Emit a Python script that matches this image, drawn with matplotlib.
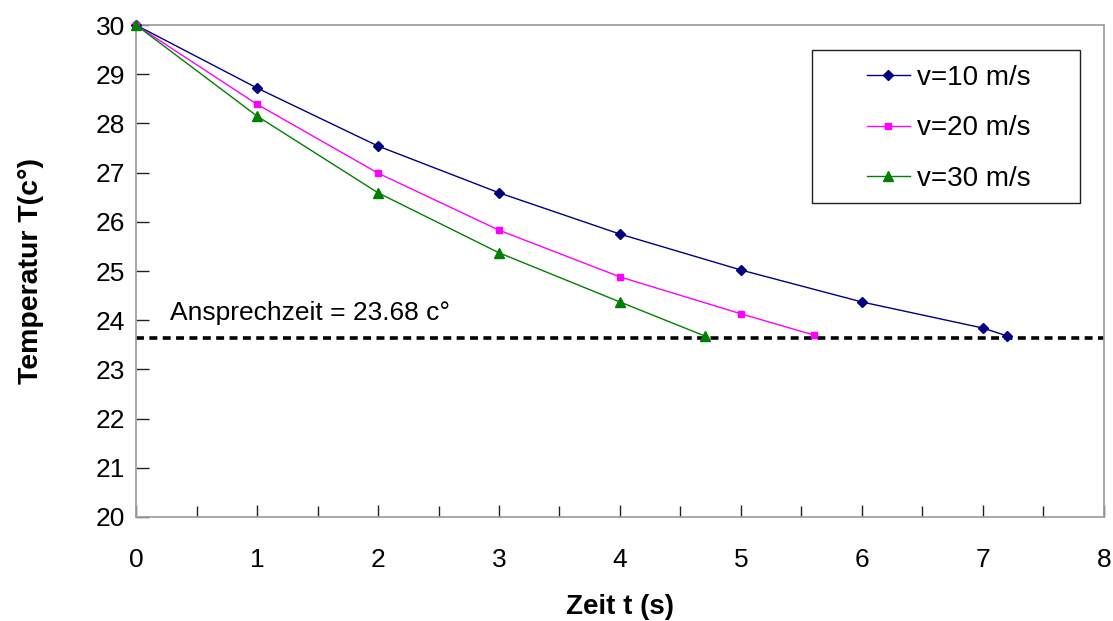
import matplotlib
matplotlib.use("Agg")
import matplotlib.pyplot as plt
from matplotlib.ticker import MultipleLocator
from matplotlib.patches import Rectangle

plt.rcParams['font.family'] = ['Liberation Sans', 'DejaVu Sans']

t10 = [0, 1, 2, 3, 4, 5, 6, 7, 7.2]
T10 = [30, 28.72, 27.54, 26.59, 25.75, 25.02, 24.37, 23.84, 23.68]
t20 = [0, 1, 2, 3, 4, 5, 5.6]
T20 = [30, 28.39, 26.99, 25.83, 24.88, 24.13, 23.70]
t30 = [0, 1, 2, 3, 4, 4.7]
T30 = [30, 28.15, 26.59, 25.37, 24.37, 23.68]
labels = ['v=10 m/s', 'v=20 m/s', 'v=30 m/s']
threshold = 23.63
threshold_text = 'Ansprechzeit = 23.68 c°'

fig = plt.figure(figsize=(11.13, 6.21), dpi=100)
ax = fig.add_axes([0.1222, 0.1675, 0.8697, 0.7922])

ax.plot(t10, T10, color='#000080', lw=1.0, marker='D', ms=5.5, label=labels[0], clip_on=False, zorder=3)
ax.plot(t20, T20, color='#FF00FF', lw=1.0, marker='s', ms=5.0, label=labels[1], clip_on=False, zorder=3)
ax.plot(t30, T30, color='#008000', lw=1.0, marker='^', ms=6.5, label=labels[2], clip_on=False, zorder=3)
ax.plot([0, 8], [threshold, threshold], color='black', lw=2.6, ls=(0, (2.2, 1.5)), zorder=2)
ax.text(0.28, 24.15, threshold_text, fontsize=19, va='center', ha='left')

ax.set_xlim(0, 8)
ax.set_ylim(20, 30)
ax.xaxis.set_major_locator(MultipleLocator(1))
ax.xaxis.set_minor_locator(MultipleLocator(0.5))
ax.yaxis.set_major_locator(MultipleLocator(1))
ax.tick_params(axis='both', which='major', direction='in', length=9, width=1,
               labelsize=19, color='#202020')
ax.tick_params(axis='x', which='minor', direction='in', length=8, width=1, color='#202020')
ax.tick_params(axis='x', pad=22)
ax.tick_params(axis='y', pad=8)
for s in ax.spines.values():
    s.set_color('#A0A0A0')
    s.set_linewidth(1.3)

ax.set_xlabel('Zeit t (s)', fontsize=20, fontweight='bold', labelpad=16)
ax.set_ylabel('Temperatur T(c°)', fontsize=20.5, fontweight='bold', labelpad=37)

# legend frame drawn separately (wide, with large left padding)
ax.add_patch(Rectangle((0.698, 0.638), 0.277, 0.311, transform=ax.transAxes,
                       facecolor='white', edgecolor='#202020', lw=1.0, zorder=4))
leg = ax.legend(loc='upper left', bbox_to_anchor=(0.755, 0.919), fontsize=20,
                frameon=False, handlelength=1.55, labelspacing=0.88, borderpad=0,
                borderaxespad=0, handletextpad=0.25)
leg.set_zorder(5)

fig.savefig('out.png', dpi=100)
